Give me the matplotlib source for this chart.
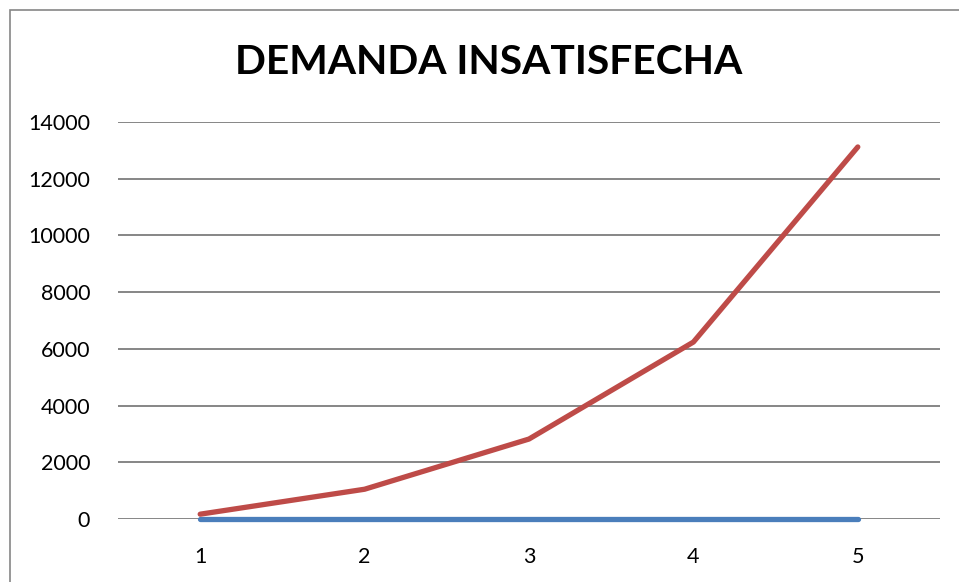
import matplotlib.pyplot as plt
from matplotlib.patches import Rectangle

periods = [1, 2, 3, 4, 5]
demanda_blue = [0, 0, 0, 0, 0]
demanda_red = [170, 1050, 2820, 6240, 13120]
yticks = [0, 2000, 4000, 6000, 8000, 10000, 12000, 14000]

plt.rcParams['font.family'] = ['Lato', 'DejaVu Sans']

fig = plt.figure(figsize=(9.59, 5.82), dpi=100)
fig.patches.append(Rectangle((10 / 959, -0.1), 1.2, 1 - 10 / 582 + 0.1,
                             transform=fig.transFigure, fill=False,
                             edgecolor='#868686', linewidth=1.2))
ax = fig.add_axes([118 / 959, 63 / 582, 822 / 959, 397 / 582])

ax.plot(periods, demanda_blue, color='#4A7EBB', linewidth=3.8,
        solid_capstyle='round', zorder=3, clip_on=False)
ax.plot(periods, demanda_red, color='#BE4B48', linewidth=3.8,
        solid_capstyle='round', zorder=4, clip_on=False)

ax.set_xlim(0.5, 5.5)
ax.set_ylim(0, 14000)
ax.set_yticks(yticks)
ax.set_xticks(periods)
ax.set_yticklabels([str(v) for v in yticks], fontsize=15.5)
ax.set_xticklabels([str(p) for p in periods], fontsize=15.5)
ax.tick_params(length=0)
ax.tick_params(axis='y', pad=20)
ax.tick_params(axis='x', pad=20)
ax.grid(axis='y', color='#868686', linewidth=1.4)
ax.set_axisbelow(True)
for s in ax.spines.values():
    s.set_visible(False)

fig.text(489 / 959, 1 - 62 / 582, 'DEMANDA INSATISFECHA', ha='center', va='center',
         fontsize=29.3, fontweight='bold')

fig.savefig('out.png', dpi=100)
